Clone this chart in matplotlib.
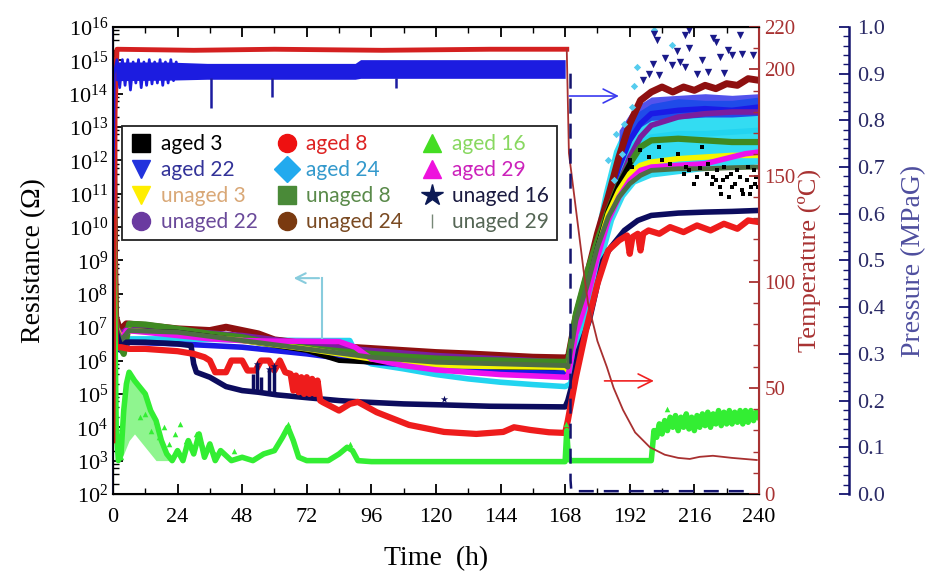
import matplotlib
matplotlib.use("Agg")
import matplotlib.pyplot as plt
import numpy as np
from matplotlib.lines import Line2D
from matplotlib.ticker import FixedLocator, LogLocator, MultipleLocator, NullFormatter

plt.rcParams.update({
    "font.family": ["Liberation Serif", "DejaVu Serif"],
    "mathtext.fontset": "custom",
    "mathtext.rm": "Liberation Serif",
    "mathtext.it": "Liberation Serif:italic",
})

# ---- data: resistance as log10(R / ohm) ----
aged3_t = [0, 0.6, 1, 3, 6, 24, 48, 72, 84, 96, 120, 144, 168, 169, 172, 176, 180, 184, 188, 192]
aged3_r = [15.0, 8.0, 7.0, 6.7, 6.9, 6.85, 6.6, 6.3, 6.0, 5.95, 5.9, 5.8, 5.78, 5.7, 7.0, 8.1, 9.4, 10.5, 11.3, 11.9]
aged3_pts_t = [192, 193, 196, 199, 203, 207, 210, 214, 218, 219, 220.6, 222.5, 224, 225.5, 227, 228, 229,
               230, 233, 233.6, 235.5, 236, 238, 239, 204, 212, 216, 221, 223, 226, 231, 232, 234, 237,
               238.5, 229.5, 226.5, 224.5, 236.5, 239.5, 217, 213]
aged3_pts_r = [12.0, 11.8, 12.3, 12.1, 12.4, 11.9, 12.2, 11.7, 11.77, 12.4, 11.6, 11.3, 11.4, 11.2, 11.8, 11.5, 10.9,
               11.2, 11.5, 11.1, 11.4, 11.8, 11.7, 11.5, 12.0, 11.6, 11.3, 11.9, 11.5, 11.0, 11.3, 11.7, 11.0, 11.2,
               11.3, 11.6, 11.4, 11.7, 11.0, 11.2, 11.5, 11.8]

aged8_t = [0, 0.6, 1, 3, 6, 12, 24, 30, 34, 36, 38, 42, 44, 48, 50, 53, 55, 58, 60, 62, 64, 66, 67, 68, 69,
           70, 71, 72, 73, 74, 75, 76, 77, 78, 84, 88, 91, 98, 110, 123, 135, 145, 149, 155, 162, 168,
           169, 172, 176, 180, 184, 188, 191, 192, 193, 195, 196, 197, 199, 203, 207, 212, 217, 222, 227, 232, 236, 240]
aged8_r = [15.0, 8.5, 6.4, 6.4, 6.35, 6.35, 6.28, 6.2, 6.1, 6.0, 5.65, 5.65, 6.0, 6.0, 5.7, 5.7, 6.0, 6.0,
           5.7, 6.0, 5.65, 5.6, 5.1, 5.55, 5.05, 5.5, 5.0, 5.5, 5.0, 5.45, 5.0, 5.4, 4.8, 4.75, 4.5, 4.7,
           4.76, 4.45, 4.07, 3.86, 3.8, 3.86, 4.0, 3.92, 3.85, 3.83,
           4.2, 5.5, 7.0, 8.3, 9.3, 9.6, 9.75, 9.2, 9.7, 9.8, 9.3, 9.8, 9.9, 9.8, 10.0, 9.85, 10.05, 9.9, 10.1, 9.95, 10.2, 10.15]

aged16_t = [0, 0.6, 1.2, 2, 3, 4, 5, 6, 8, 10, 12, 14, 16, 18, 20, 22, 24, 26, 28, 30, 32, 34, 36, 38, 40,
            44, 48, 52, 56, 60, 63, 65, 67, 69, 72, 80, 84, 87, 89, 91, 96, 168, 168.6, 169.2, 170, 200,
            201, 202, 203, 204, 205, 206, 207, 208, 209, 210, 211, 212, 213, 214, 215, 216, 217, 218, 219,
            220, 221, 222, 223, 224, 225, 226, 227, 228, 229, 230, 231, 232, 233, 234, 235, 236, 237, 238, 239, 240]
aged16_r = [14.0, 8.0, 4.0, 3.0, 3.2, 4.5, 5.3, 5.65, 5.4, 5.2, 5.0, 4.5, 4.2, 3.6, 3.2, 3.0, 3.3, 3.0, 3.6,
            3.2, 3.8, 3.1, 3.5, 3.0, 3.3, 3.0, 3.1, 3.0, 3.2, 3.3, 3.7, 4.0, 3.6, 3.1, 3.0, 3.0, 3.2, 3.4,
            3.3, 3.0, 2.97, 2.97, 3.9, 3.1, 3.0, 3.0,
            3.9, 3.7, 4.1, 3.8, 4.2, 3.9, 4.3, 4.0, 4.35, 3.9, 4.3, 4.0, 4.4, 3.95, 4.3, 3.9, 4.35, 4.0, 4.4,
            4.05, 4.45, 4.0, 4.4, 4.1, 4.5, 4.05, 4.45, 4.1, 4.5, 4.1, 4.45, 4.15, 4.5, 4.1, 4.5, 4.15, 4.5, 4.2, 4.45, 4.3]
# outline of the dense early hump of aged 16 points
aged16_hump_t = [3, 4, 5, 6, 8, 10, 12, 14, 16, 18, 20, 22]
aged16_hump_lo = [3.0, 3.2, 3.4, 3.6, 3.8, 3.6, 3.4, 3.2, 3.0, 3.0, 3.0, 3.0]
aged16_hump_hi = [3.2, 4.5, 5.3, 5.65, 5.4, 5.2, 5.0, 4.5, 4.2, 3.6, 3.2, 3.0]
aged16_pts_t = [2, 2.5, 3, 10, 12, 14, 16, 17, 19, 21, 23, 25, 27, 29, 31, 33, 38, 45, 65, 88, 168.5, 206]
aged16_pts_r = [3.6, 3.3, 3.1, 4.3, 4.4, 3.9, 4.2, 3.7, 4.0, 3.5, 3.8, 4.1, 3.6, 3.4, 3.8, 3.5, 3.2, 3.3, 4.1, 3.5, 4.1, 4.55]

aged22_t = [0, 0.6, 1, 3, 6, 24, 48, 72, 96, 120, 144, 168, 169, 172, 176, 180, 184, 188, 192, 196, 200, 210, 220, 230, 240]
aged22_r = [14.6, 8.0, 6.8, 6.3, 6.55, 6.5, 6.4, 6.2, 5.95, 5.8, 5.7, 5.62, 5.6, 6.9, 8.2, 9.6, 10.8, 11.8, 12.6, 13.1, 13.4, 13.5, 13.55, 13.5, 13.6]
aged22_band_t = [188, 192, 196, 200, 210, 220, 230, 240]
aged22_band_lo = [12.2, 12.7, 13.0, 13.2, 13.25, 13.3, 13.3, 13.35]
aged22_band_hi = [12.9, 13.4, 13.7, 13.9, 13.95, 14.0, 13.95, 14.0]
aged22_pts_t = [197, 199, 200.6, 201, 202, 203, 205, 207.7, 209.5, 210.6, 212.5, 212.5, 214, 214, 217, 218.8,
                221, 223, 224, 225.5, 227, 228.5, 230, 233, 233.7, 237.7]
aged22_pts_r = [14.4, 14.6, 14.9, 15.8, 15.6, 14.56, 15.07, 14.86, 15.28, 14.95, 15.75, 14.8, 15.37, 15.9, 14.6,
                15.0, 14.65, 15.67, 15.55, 15.1, 14.62, 15.31, 15.16, 15.76, 15.19, 15.16]

aged24_t = [0, 0.6, 1, 3, 6, 24, 48, 72, 88, 91, 96, 108, 120, 132, 144, 156, 168, 170, 174, 178, 182, 186, 190, 194, 200, 210, 220, 230, 240]
aged24_r = [14.5, 8.0, 6.9, 6.5, 6.65, 6.65, 6.62, 6.6, 6.6, 6.1, 5.9, 5.75, 5.58, 5.45, 5.35, 5.28, 5.22,
            5.3, 6.8, 8.5, 10.0, 11.2, 12.0, 12.5, 12.7, 12.8, 12.8, 12.85, 12.9]
aged24_band_t = [174, 178, 182, 186, 190, 194, 200, 210, 220, 230, 240]
aged24_band_lo = [6.0, 7.6, 9.0, 10.2, 10.9, 11.3, 11.5, 11.6, 11.7, 11.8, 11.9]
aged24_band_hi = [7.6, 9.4, 11.0, 12.3, 13.0, 13.4, 13.7, 13.85, 13.8, 13.8, 13.9]
aged24_pts_t = [184, 187, 190, 192.8, 193.5, 194.6, 201, 207.7, 186, 189]
aged24_pts_r = [12.0, 12.8, 13.1, 13.6, 14.23, 14.8, 15.9, 15.46, 11.4, 12.2]

aged29_t = [0, 0.6, 1, 3, 5, 12, 24, 36, 48, 60, 72, 84, 90, 96, 108, 120, 132, 144, 156, 168, 169, 172,
            176, 180, 184, 188, 192, 196, 200, 210, 220, 225, 230, 235, 240]
aged29_r = [14.8, 8.0, 7.0, 6.6, 6.9, 6.85, 6.75, 6.65, 6.6, 6.58, 6.58, 6.57, 6.4, 6.05, 5.85, 5.72, 5.65,
            5.58, 5.54, 5.5, 5.5, 6.8, 7.8, 9.1, 10.2, 10.9, 11.4, 11.7, 11.8, 11.85, 11.9, 12.0, 12.1, 12.2, 12.25]

unaged3_t = [0, 0.6, 1, 3, 6, 24, 48, 72, 96, 120, 144, 168, 169, 172, 176, 180, 184, 188, 192, 196, 200, 210, 220, 230, 240]
unaged3_r = [14.8, 8.0, 7.0, 6.7, 6.9, 6.8, 6.6, 6.35, 6.05, 5.85, 5.82, 5.8, 5.7, 7.0, 8.0, 9.3, 10.4, 11.1,
             11.6, 11.85, 11.95, 12.05, 12.1, 12.15, 12.15]

unaged8_t = [0, 0.6, 1, 2.5, 4, 6, 12, 24, 36, 48, 60, 72, 84, 96, 108, 120, 132, 144, 156, 168, 169, 172,
             176, 180, 184, 188, 192, 196, 200, 210, 220, 230, 240]
unaged8_r = [15.0, 9.0, 7.2, 6.5, 6.2, 7.1, 7.08, 6.95, 6.8, 6.7, 6.5, 6.38, 6.28, 6.2, 6.12, 6.06, 6.02, 6.0,
             5.97, 5.96, 5.9, 7.4, 8.6, 9.6, 10.5, 11.3, 11.9, 12.4, 12.6, 12.65, 12.6, 12.55, 12.55]

unaged16_t = [0, 0.6, 1, 3, 5, 12, 24, 29, 30, 31, 36, 42, 48, 54, 61, 73, 84, 92, 108, 123, 140, 168,
              169, 171, 173, 177, 182, 185, 190, 195, 200, 210, 220, 230, 240]
unaged16_r = [15.0, 9.0, 6.9, 6.4, 6.55, 6.55, 6.5, 6.45, 5.9, 5.65, 5.5, 5.22, 5.1, 5.05, 4.97, 4.88, 4.8,
              4.76, 4.7, 4.67, 4.63, 4.61, 4.8, 5.4, 6.3, 7.2, 9.0, 9.4, 9.9, 10.2, 10.35, 10.42, 10.45, 10.47, 10.5]
unaged16_spike_t = [52, 53.5, 55, 58, 60]
unaged16_spike_r = [5.6, 5.9, 5.5, 5.75, 5.85]
unaged16_pts_t = [53.5, 58, 60, 123]
unaged16_pts_r = [5.9, 5.75, 5.85, 4.85]

unaged22_t = [0, 0.6, 1, 3, 6, 24, 48, 72, 96, 120, 144, 168, 169, 172, 176, 180, 184, 188, 192, 196, 200, 210, 220, 230, 240]
unaged22_r = [14.8, 9.0, 7.0, 6.8, 7.0, 6.9, 6.75, 6.5, 6.3, 6.15, 6.05, 5.95, 5.9, 7.1, 7.9, 9.3, 10.4,
              11.3, 12.1, 12.7, 13.05, 13.3, 13.4, 13.45, 13.45]

unaged24_t = [0, 0.6, 1, 2.5, 5, 12, 24, 36, 42, 48, 54, 60, 72, 84, 96, 108, 120, 132, 144, 156, 168, 169,
              172, 176, 180, 184, 188, 192, 196, 200, 204, 208, 212, 216, 220, 224, 228, 232, 236, 240]
unaged24_r = [15.2, 9.0, 7.3, 6.9, 7.1, 7.05, 6.95, 6.9, 7.0, 6.9, 6.8, 6.62, 6.5, 6.42, 6.36, 6.3, 6.24,
              6.2, 6.15, 6.1, 6.08, 6.0, 7.3, 8.5, 9.8, 10.9, 12.1, 13.1, 13.8, 14.05, 14.2, 14.05, 14.2,
              14.1, 14.25, 14.15, 14.3, 14.25, 14.45, 14.4]

unaged29_t = [0, 0.6, 1, 3, 6, 24, 48, 72, 96, 120, 144, 168, 169, 172, 176, 180, 184, 188, 192, 196, 200, 210, 220, 230, 240]
unaged29_r = [14.5, 8.5, 7.0, 6.6, 6.9, 6.85, 6.6, 6.35, 6.1, 5.95, 5.9, 5.85, 5.8, 7.2, 8.2, 9.4, 10.3,
              10.9, 11.3, 11.55, 11.7, 11.75, 11.75, 11.78, 11.8]

# temperature (degC)
temp_hold_t = [0, 0.8, 1.5, 30, 60, 100, 140, 168.6]
temp_hold_v = [25, 180, 209.5, 209, 209.5, 209, 209.5, 209.5]
temp_cool_t = [168.6, 169.4, 175.3, 176.5, 180, 183.5, 186, 189.5, 194, 199.5, 205, 210, 214.3, 218, 222.9, 230, 239.2]
temp_cool_v = [209.5, 160.6, 100.8, 90, 72, 59.8, 50, 39.6, 29, 22, 18.5, 17, 16.5, 17.5, 18, 17, 16]

# pressure (MPaG)
press_band_t = [1, 20, 35, 90, 92, 168]
press_band_lo = [0.885, 0.886, 0.888, 0.888, 0.89, 0.89]
press_band_hi = [0.925, 0.925, 0.922, 0.922, 0.93, 0.93]
press_zig_t = [0, 0.5, 1.5, 2.5, 3.5, 4.5, 5.5, 6.5, 7.5, 8.5, 9.5, 10.5, 11.5, 12.5, 13.5, 14.5, 15.5,
               16.5, 17.5, 18.5, 19.5, 20.5, 21.5, 22.5, 23.5, 24.5]
press_zig_p = [0.6, 0.9, 0.93, 0.87, 0.93, 0.875, 0.93, 0.865, 0.925, 0.88, 0.93, 0.87, 0.925, 0.875, 0.93,
               0.878, 0.925, 0.88, 0.93, 0.875, 0.925, 0.88, 0.93, 0.885, 0.925, 0.9]
press_dip_t = [36.5, 59, 105]
press_dip_p = [0.826, 0.85, 0.87]
press_vent_t = [170, 170, 170.3, 237]
press_vent_p = [0.9, 0.03, 0.006, 0.006]

series = [
    # label, t, r, plot colour, marker, legend marker colour, legend text colour, line width
    ("aged 3", aged3_t, aged3_r, "#000000", "s", "#000000", "#000000", 3.5),
    ("aged 8", aged8_t, aged8_r, "#ee1c1c", "o", "#ee1111", "#dd2222", 4.5),
    ("aged 16", aged16_t, aged16_r, "#33ee33", "^", "#44dd22", "#88d860", 4.0),
    ("aged 22", aged22_t, aged22_r, "#1a1ae6", "v", "#2233dd", "#333399", 4.0),
    ("aged 24", aged24_t, aged24_r, "#22d4f0", "D", "#22aaee", "#3399cc", 4.0),
    ("aged 29", aged29_t, aged29_r, "#ee11ee", "^", "#ee11dd", "#cc22bb", 4.0),
    ("unaged 3", unaged3_t, unaged3_r, "#f5f500", "v", "#ffee00", "#d9a877", 4.0),
    ("unaged 8", unaged8_t, unaged8_r, "#3f8a22", "s", "#4a8a38", "#5a8a4a", 4.5),
    ("unaged 16", unaged16_t, unaged16_r, "#0c0c5e", "*", "#0c1a55", "#1a1a40", 4.0),
    ("unaged 22", unaged22_t, unaged22_r, "#7a1e9e", "o", "#6a3aa0", "#6a4a9a", 4.0),
    ("unaged 24", unaged24_t, unaged24_r, "#8e1010", "o", "#7a3a10", "#7a4a22", 5.0),
    ("unaged 29", unaged29_t, unaged29_r, "#4e6e44", "|", "#778877", "#556655", 3.5),
]

fig = plt.figure(figsize=(9.32, 5.76), dpi=100)
ax = fig.add_axes([0.1212, 0.1424, 0.6931, 0.8108])
ax_t = ax.twinx()
ax_p = ax.twinx()
ax_p.spines["right"].set_position(("axes", 1.139))

col = {s[0]: s[3] for s in series}

# bands behind the lines
ax.fill_between(aged24_band_t, 10.0 ** np.array(aged24_band_lo), 10.0 ** np.array(aged24_band_hi),
                color="#33dcf2", lw=0, zorder=1)
ax.fill_between(aged22_band_t, 10.0 ** np.array(aged22_band_lo), 10.0 ** np.array(aged22_band_hi),
                color=col["aged 22"], lw=0, alpha=0.75, zorder=1.1)
ax.fill_between(aged16_hump_t, 10.0 ** np.array(aged16_hump_lo), 10.0 ** np.array(aged16_hump_hi),
                color=col["aged 16"], lw=0, alpha=0.55, zorder=1.2)

draw_order = ["aged 24", "aged 22", "unaged 24", "unaged 22", "unaged 8", "aged 3", "unaged 3",
              "aged 29", "unaged 29", "unaged 16", "aged 8", "aged 16"]
by_name = {s[0]: s for s in series}
for z, name in enumerate(draw_order):
    lab, t, r, c, m, _, _, lw = by_name[name]
    ax.plot(t, 10.0 ** np.array(r), color=c, lw=lw, solid_joinstyle="round", zorder=2 + z * 0.1)

ax.vlines(unaged16_spike_t, 10.0 ** 5.05, 10.0 ** np.array(unaged16_spike_r), color=col["unaged 16"],
          lw=2.5, zorder=3.4)
ax.scatter(aged3_pts_t, 10.0 ** np.array(aged3_pts_r), marker="s", s=10, color="#000000", zorder=3.5, lw=0)
ax.scatter(aged16_pts_t, 10.0 ** np.array(aged16_pts_r), marker="^", s=16, color=col["aged 16"], zorder=3.5, lw=0)
ax.scatter(unaged16_pts_t, 10.0 ** np.array(unaged16_pts_r), marker="*", s=30, color=col["unaged 16"], zorder=3.5, lw=0)
ax.scatter(aged24_pts_t, 10.0 ** np.array(aged24_pts_r), marker="D", s=14, color="#55ccee", zorder=3.6, lw=0)
ax.scatter(aged22_pts_t, 10.0 ** np.array(aged22_pts_r), marker="v", s=28, color="#1a1a8a", zorder=3.7, lw=0)

ax.set_yscale("log")
ax.set_xlim(0, 240)
ax.set_ylim(1e2, 1e16)
ax.set_xticks(range(0, 241, 24))
ax.xaxis.set_minor_locator(MultipleLocator(12))
ax.yaxis.set_major_locator(FixedLocator([10.0 ** k for k in range(2, 17)]))
ax.yaxis.set_minor_locator(LogLocator(base=10, subs=(2, 4, 6, 8), numticks=30))
ax.yaxis.set_minor_formatter(NullFormatter())
ax.tick_params(axis="both", which="both", direction="in", top=True, right=False, labelsize=16)
ax.tick_params(axis="both", which="major", length=7, width=1.3)
ax.tick_params(axis="both", which="minor", length=4, width=1.0)
ax.tick_params(axis="x", pad=10)
for s in ("left", "bottom", "top"):
    ax.spines[s].set_linewidth(1.5)
ax.spines["left"].set_color("#111133")
ax.set_xlabel("Time  (h)", fontsize=20, labelpad=14)
ax.set_ylabel("Resistance (\u03a9)", fontsize=20, labelpad=16)

# temperature
t_col = "#a83232"
ax_t.plot(temp_hold_t, temp_hold_v, color="#d42020", lw=3.5, zorder=2)
ax_t.plot(temp_cool_t, temp_cool_v, color="#a83030", lw=1.3, zorder=2)
ax_t.set_ylim(0, 220)
ax_t.set_yticks([0, 50, 100, 150, 200, 220])
ax_t.yaxis.set_minor_locator(MultipleLocator(10))
ax_t.tick_params(axis="y", which="both", direction="in", colors=t_col, labelsize=15, labelcolor=t_col, pad=4)
ax_t.tick_params(axis="y", which="major", length=7, width=1.3)
ax_t.tick_params(axis="y", which="minor", length=4, width=1.0)
ax_t.spines["right"].set_color(t_col)
ax_t.spines["right"].set_linewidth(1.5)
ax_t.set_ylabel("Temperature (\u00baC)", fontsize=19, color=t_col, labelpad=1)

# pressure
p_col = "#14146e"
ax_p.fill_between(press_band_t, press_band_lo, press_band_hi, color="#1c1ce0", lw=0)
ax_p.plot(press_zig_t, press_zig_p, color="#1c1ce0", lw=2.0)
ax_p.vlines(press_dip_t, press_dip_p, 0.89, color="#1c1ca0", lw=1.8)
ax_p.plot(press_vent_t, press_vent_p, color=p_col, lw=1.8, dashes=(6, 4))
ax_p.set_ylim(0, 1.0)
ax_p.yaxis.set_major_locator(MultipleLocator(0.1))
ax_p.yaxis.set_minor_locator(MultipleLocator(0.02))
ax_p.yaxis.set_major_formatter(plt.FuncFormatter(lambda v, _: f"{v:.1f}"))
ax_p.tick_params(axis="y", which="both", direction="in", colors=p_col, labelsize=16, labelcolor="#2a2a66", pad=6)
ax_p.tick_params(axis="y", which="major", length=7, width=1.3)
ax_p.tick_params(axis="y", which="minor", length=4, width=1.0)
ax_p.spines["right"].set_color(p_col)
ax_p.spines["right"].set_linewidth(1.8)
ax_p.set_ylabel("Pressure (MPaG)", fontsize=20, color="#4e4e9e", labelpad=12)

# arrows pointing to the matching axis
ax_p.annotate("", xy=(189, 10 ** 13.93), xytext=(168.5, 10 ** 13.93), xycoords=ax.transData,
              textcoords=ax.transData,
              arrowprops=dict(arrowstyle="->,head_length=1.0,head_width=0.5", color="#3a3af0", lw=1.2))
ax_p.annotate("", xy=(202, 10 ** 5.39), xytext=(181.6, 10 ** 5.39), xycoords=ax.transData,
              textcoords=ax.transData,
              arrowprops=dict(arrowstyle="->,head_length=1.0,head_width=0.5", color="#f02020", lw=1.2))
ax_p.plot([77.6, 77.6], [10 ** 6.68, 10 ** 8.47], color="#88ccdd", lw=1.5, transform=ax.transData)
ax_p.annotate("", xy=(66.1, 10 ** 8.47), xytext=(77.6, 10 ** 8.47), xycoords=ax.transData,
              textcoords=ax.transData,
              arrowprops=dict(arrowstyle="->,head_length=0.7,head_width=0.35", color="#88ccdd", lw=1.5))

# legend, row by row
rows = [series[i:i + 3] for i in range(0, 12, 3)]
ordered = [rows[r][c] for c in range(3) for r in range(4)]
handles = []
for lab, _, _, _, m, mc, _, _ in ordered:
    if m == "|":
        handles.append(Line2D([], [], ls="none", marker=m, ms=10, mew=1.0, color=mc))
    else:
        handles.append(Line2D([], [], ls="none", marker=m, ms=13 if m != "*" else 16, color=mc))
leg = ax.legend(handles, [o[0] for o in ordered], ncol=3, loc="upper left",
                bbox_to_anchor=(0.014, 0.788), borderaxespad=0, frameon=True, fancybox=False,
                framealpha=1, edgecolor="#222222", prop={"family": "Lato", "size": 15},
                handlelength=1.0, handletextpad=0.45, columnspacing=0.9, labelspacing=0.28,
                borderpad=0.4)
leg.get_frame().set_linewidth(1.3)
for txt, o in zip(leg.get_texts(), ordered):
    txt.set_color(o[6])
leg.set_zorder(5)

fig.savefig("out.png", dpi=100)
